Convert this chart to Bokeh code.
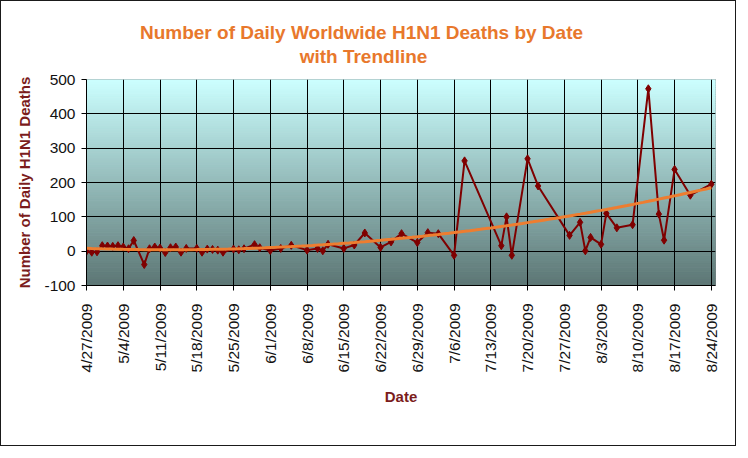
import numpy as np
import pandas as pd
from bokeh.plotting import figure
from bokeh.models import Range1d, FixedTicker, Label
from bokeh.embed import file_html
from bokeh.resources import INLINE

# ---- data ----
dates = ["2009-04-27", "2009-04-28", "2009-04-29", "2009-04-30", "2009-05-01", "2009-05-02",
         "2009-05-03", "2009-05-04", "2009-05-05", "2009-05-06", "2009-05-08", "2009-05-09",
         "2009-05-10", "2009-05-11", "2009-05-12", "2009-05-13", "2009-05-14", "2009-05-15",
         "2009-05-16", "2009-05-18", "2009-05-19", "2009-05-20", "2009-05-21", "2009-05-22",
         "2009-05-23", "2009-05-25", "2009-05-26", "2009-05-27", "2009-05-29", "2009-05-30",
         "2009-06-01", "2009-06-03", "2009-06-05", "2009-06-08", "2009-06-10", "2009-06-11",
         "2009-06-12", "2009-06-15", "2009-06-17", "2009-06-19", "2009-06-22", "2009-06-24",
         "2009-06-26", "2009-06-29", "2009-07-01", "2009-07-03", "2009-07-06", "2009-07-08",
         "2009-07-15", "2009-07-16", "2009-07-17", "2009-07-20", "2009-07-22", "2009-07-28",
         "2009-07-30", "2009-07-31", "2009-08-01", "2009-08-03", "2009-08-04", "2009-08-06",
         "2009-08-09", "2009-08-12", "2009-08-14", "2009-08-15", "2009-08-17", "2009-08-20",
         "2009-08-24"]
deaths = [0, -3, -2, 16, 15, 14,
          16, 12, 7, 31, -39, 7,
          12, 9, -4, 10, 12, -3,
          8, 8, -3, 6, 5, 3,
          -3, 6, 4, 7, 19, 10,
          2, 8, 17, 3, 8, 1,
          20, 8, 18, 53, 11, 27,
          51, 25, 54, 51, -12, 263,
          16, 100, -12, 269, 190, 46,
          84, 1, 40, 20, 110, 68,
          77, 473, 108, 32, 238, 163,
          195]
tick_dates = ["2009-04-27", "2009-05-04", "2009-05-11", "2009-05-18", "2009-05-25", "2009-06-01",
              "2009-06-08", "2009-06-15", "2009-06-22", "2009-06-29", "2009-07-06", "2009-07-13",
              "2009-07-20", "2009-07-27", "2009-08-03", "2009-08-10", "2009-08-17", "2009-08-24"]
tick_labels = ["4/27/2009", "5/4/2009", "5/11/2009", "5/18/2009", "5/25/2009", "6/1/2009",
               "6/8/2009", "6/15/2009", "6/22/2009", "6/29/2009", "7/6/2009", "7/13/2009",
               "7/20/2009", "7/27/2009", "8/3/2009", "8/10/2009", "8/17/2009", "8/24/2009"]
y_ticks = [-100, 0, 100, 200, 300, 400, 500]
y_tick_labels = ["-100", "0", "100", "200", "300", "400", "500"]
title_lines = ["Number of Daily Worldwide H1N1 Deaths by Date", "with Trendline"]

# ---- derived ----
x = pd.to_datetime(dates)
t = np.array((x - x[0]).days, dtype=float)
coef = np.polyfit(t, np.array(deaths, dtype=float), 2)
t_full = np.arange(t[0], t[-1] + 1)
x_full = x[0] + pd.to_timedelta(t_full, unit="D")
trend = np.polyval(coef, t_full)

tick_dt = pd.to_datetime(tick_dates)
tick_ms = [int(d.value // 10**6) for d in tick_dt]

FONT = "Liberation Sans"
x_start = tick_dt[0]
x_end = tick_dt[-1] + pd.Timedelta(hours=19)

p = figure(width=736, height=446, x_axis_type="datetime",
           x_range=Range1d(x_start, x_end), y_range=Range1d(y_ticks[0], y_ticks[-1]),
           output_backend="svg", toolbar_location=None, title=None,
           min_border_left=85, min_border_right=22, min_border_top=78, min_border_bottom=162,
           background_fill_color="white", border_fill_color="white",
           styles={"border": "1px solid #1a1a1a"})

# gradient background of plot area
nb = 90
edges = np.linspace(y_ticks[0], y_ticks[-1], nb + 1)
bot = np.array([92, 118, 116])
top = np.array([204, 255, 255])
cols = []
for i in range(nb):
    f = (i + 0.5) / nb
    c = bot + (top - bot) * f
    cols.append("#%02x%02x%02x" % tuple(int(round(v)) for v in c))
bg = p.quad(left=x_start, right=x_end, bottom=edges[:-1], top=edges[1:],
            fill_color=cols, line_color=cols, line_width=1)
bg.level = "image"

p.outline_line_color = "#8c8c8c"
p.outline_line_width = 1

# grid
p.xgrid.ticker = FixedTicker(ticks=tick_ms)
p.ygrid.ticker = FixedTicker(ticks=y_ticks)
for g in (p.xgrid, p.ygrid):
    g.grid_line_color = "black"
    g.grid_line_alpha = 1.0
    g.grid_line_width = 1

# data
p.line(x, deaths, line_color="#7f0000", line_width=2)
p.scatter(x, deaths, marker="diamond", size=8, color="#7f0000")
p.line(x_full, trend, line_color="#ee7d30", line_width=3)

# axes
p.xaxis.ticker = FixedTicker(ticks=tick_ms)
p.xaxis.major_label_overrides = {ms: lab for ms, lab in zip(tick_ms, tick_labels)}
p.xaxis.major_label_orientation = np.pi / 2
p.yaxis.ticker = FixedTicker(ticks=y_ticks)
p.yaxis.major_label_overrides = {v: lab for v, lab in zip(y_ticks, y_tick_labels)}
for ax in (p.xaxis, p.yaxis):
    ax.axis_line_color = "black"
    ax.major_tick_line_color = "black"
    ax.major_tick_out = 5
    ax.major_tick_in = 0
    ax.minor_tick_line_color = None
    ax.major_label_text_font = FONT
    ax.major_label_text_font_size = "15.5px"
    ax.major_label_text_color = "#111111"
    ax.axis_label_text_font = FONT
    ax.axis_label_text_font_size = "15px"
    ax.axis_label_text_font_style = "bold"
    ax.axis_label_text_color = "#7b1c1c"
p.xaxis.major_label_standoff = 13
p.yaxis.major_label_standoff = 6
p.xaxis.axis_label = "Date"
p.yaxis.axis_label = "Number of Daily H1N1 Deaths"
p.xaxis.axis_label_standoff = 13
p.yaxis.axis_label_standoff = 8

# two-line title, centred over the chart (placed in the top panel)
TCOL = "#e8782c"
for txt, cx, by in zip(title_lines, [359, 361], [30, 54]):
    p.add_layout(Label(x=cx, y=by, x_units="canvas", y_units="canvas", text=txt,
                       text_align="center", text_baseline="alphabetic",
                       text_font=FONT, text_font_size="19px", text_font_style="bold",
                       text_color=TCOL), "above")

open("out.html", "w").write(file_html(p, INLINE))
